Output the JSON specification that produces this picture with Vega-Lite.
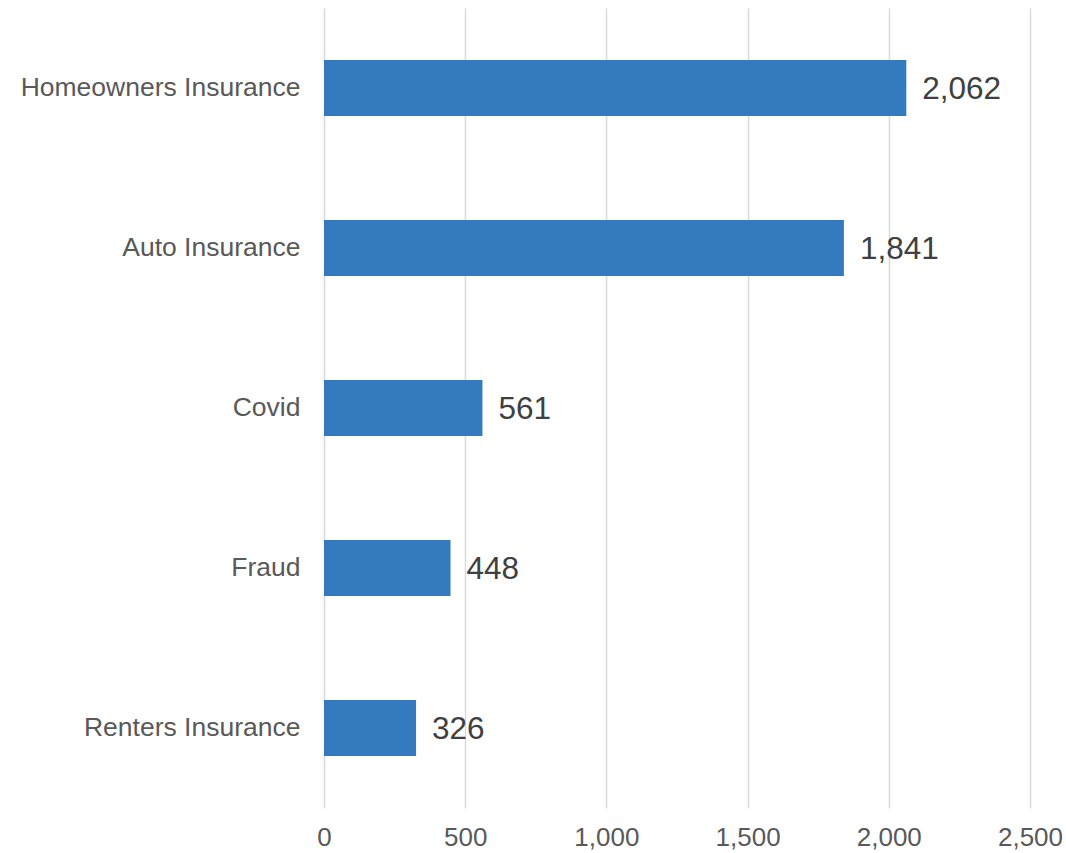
{
  "$schema": "https://vega.github.io/schema/vega-lite/v6.json",
  "autosize": {"type": "none"},
  "width": 706,
  "height": 800,
  "padding": {"left": 324, "top": 8, "right": 36, "bottom": 45},
  "background": "white",
  "config": {"view": {"stroke": null}, "font": "Liberation Sans"},
  "data": {"values": [
    {"category": "Homeowners Insurance", "count": 2062},
    {"category": "Auto Insurance", "count": 1841},
    {"category": "Covid", "count": 561},
    {"category": "Fraud", "count": 448},
    {"category": "Renters Insurance", "count": 326}
  ]},
  "encoding": {
    "y": {"field": "category", "type": "nominal", "sort": null,
      "scale": {"paddingInner": 0.65, "paddingOuter": 0.325},
      "axis": {"title": null, "ticks": false, "domain": false, "labelFontSize": 26.5, "labelColor": "#595959", "labelPadding": 24, "labelLimit": 0, "labelFont": "Liberation Sans"}},
    "x": {"field": "count", "type": "quantitative",
      "scale": {"domain": [0, 2500], "nice": false},
      "axis": {"title": null, "values": [0, 500, 1000, 1500, 2000, 2500], "format": ",d", "ticks": false, "domain": false, "grid": true, "gridColor": "#d9d9d9", "gridWidth": 1.5, "labelFontSize": 26, "labelColor": "#595959", "labelPadding": 16, "labelFont": "Liberation Sans", "labelFlush": false}}
  },
  "layer": [
    {"mark": {"type": "bar", "color": "#337bbe"}},
    {"mark": {"type": "text", "align": "left", "baseline": "middle", "dx": 16, "dy": 2, "fontSize": 31.5, "color": "#404040", "font": "Liberation Sans"},
      "encoding": {"text": {"field": "count", "type": "quantitative", "format": ","}}}
  ]
}
